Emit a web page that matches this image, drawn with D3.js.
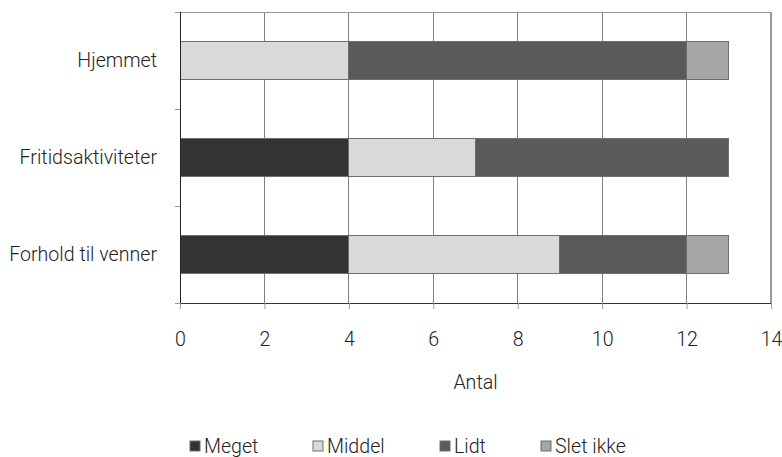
<!DOCTYPE html>
<html><head><meta charset="utf-8">
<script src="https://cdn.jsdelivr.net/npm/d3@7"></script>
<style>body{margin:0;background:#fff}text{font-family:Roboto,sans-serif;font-weight:300;fill:#222}</style>
</head><body><svg id="c" width="782" height="457"></svg>
<script>
const categories = ["Hjemmet","Fritidsaktiviteter","Forhold til venner"];
const seriesNames = ["Meget","Middel","Lidt","Slet ikke"];
const meget   = [0,4,4];
const middel  = [4,3,5];
const lidt    = [8,6,3];
const sletIkke= [1,0,1];
const xTicks = [0,2,4,6,8,10,12,14];
const colors = ["#333333","#d9d9d9","#5a5a5a","#a6a6a6"];

const rows = categories.map((c,i)=>({cat:c,Meget:meget[i],Middel:middel[i],Lidt:lidt[i],"Slet ikke":sletIkke[i]}));
const stack = d3.stack().keys(seriesNames)(rows);

const FS = 19.6;
const svg = d3.select("#c");
const L=180,R=771,T=12,B=303;
const x = d3.scaleLinear().domain([0,14]).range([L,R]);
const y = d3.scaleBand().domain(categories).range([T,B]).paddingInner(0.6).paddingOuter(0.3);

// grid
svg.append("g").selectAll("line").data(xTicks.slice(1)).join("line")
  .attr("x1",d=>x(d)).attr("x2",d=>x(d)).attr("y1",T).attr("y2",B)
  .attr("stroke","#808080").attr("stroke-width",1).attr("shape-rendering","crispEdges");
svg.append("line").attr("x1",L-5).attr("x2",R).attr("y1",T).attr("y2",T)
  .attr("stroke","#999").attr("shape-rendering","crispEdges");
svg.append("line").attr("x1",R).attr("x2",R).attr("y1",T).attr("y2",B)
  .attr("stroke","#999").attr("stroke-width",1.5).attr("shape-rendering","crispEdges");

// bars
svg.append("g").selectAll("g").data(stack).join("g")
  .attr("fill",(d,i)=>colors[i])
  .selectAll("rect").data(d=>d.filter(p=>p[1]>p[0])).join("rect")
  .attr("x",d=>x(d[0])).attr("width",d=>x(d[1])-x(d[0]))
  .attr("y",d=>y(d.data.cat)).attr("height",y.bandwidth())
  .attr("stroke","#6e6e6e").attr("stroke-width",1).attr("shape-rendering","crispEdges");

// x axis
const xa = svg.append("g").attr("transform",`translate(0,${B})`)
  .call(d3.axisBottom(x).tickValues(xTicks).tickSize(6).tickPadding(23).tickSizeOuter(0));
xa.select(".domain").attr("stroke","#333").attr("d",`M${L-5},0.5H${R}`);
xa.selectAll(".tick line").attr("stroke","#999");
xa.selectAll("text").attr("font-size",FS).attr("fill","#222")
  .style("font-family","Roboto").style("font-weight",300);

// y axis: ticks at band boundaries
const bounds = [T, (y(categories[0])+y.bandwidth()+y(categories[1]))/2, (y(categories[1])+y.bandwidth()+y(categories[2]))/2, B];
const ya = svg.append("g").attr("transform",`translate(${L},0)`);
ya.append("line").attr("x1",0.5).attr("x2",0.5).attr("y1",T).attr("y2",B).attr("stroke","#222");
ya.selectAll("line.t").data(bounds).join("line").attr("class","t")
  .attr("x1",-5).attr("x2",0).attr("y1",d=>Math.round(d)+0.5).attr("y2",d=>Math.round(d)+0.5).attr("stroke","#999");
ya.selectAll("text").data(categories).join("text")
  .attr("x",-23).attr("y",d=>y(d)+y.bandwidth()/2).attr("dy","0.35em")
  .attr("text-anchor","end").attr("font-size",FS).text(d=>d);

svg.append("text").attr("x",(L+R)/2).attr("y",389).attr("text-anchor","middle").attr("font-size",FS).text("Antal");

// legend
const legX=[190,313,440,541];
const lg = svg.append("g").selectAll("g").data(seriesNames).join("g")
  .attr("transform",(d,i)=>`translate(${legX[i]},441)`);
lg.append("rect").attr("width",10).attr("height",10).attr("fill",(d,i)=>colors[i]).attr("stroke","#6e6e6e");
lg.append("text").attr("x",14).attr("y",12).attr("font-size",FS).text(d=>d);
</script></body></html>
